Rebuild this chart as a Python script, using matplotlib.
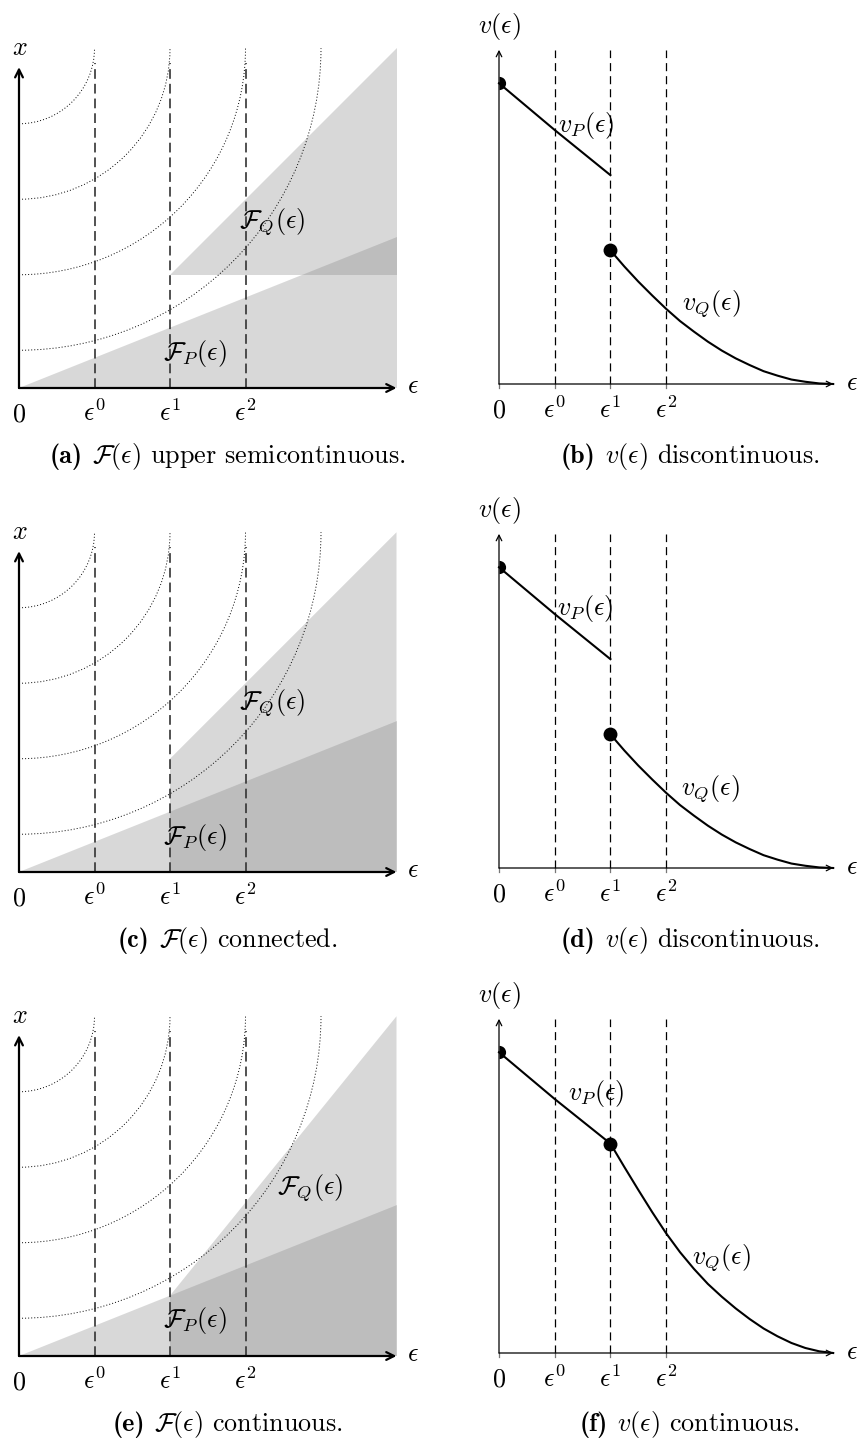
"""
Feasible set F(eps) vs optimal value v(eps) -- six panels (a)-(f)
Output: out.png (860x1448)
"""

import matplotlib

matplotlib.use("Agg")
import matplotlib.pyplot as plt
from matplotlib.patches import Arc

plt.rcParams["mathtext.fontset"] = "cm"
plt.rcParams["font.family"] = "serif"
plt.rcParams["font.serif"] = ["cmr10"]
plt.rcParams["axes.unicode_minus"] = False
plt.rcParams["lines.scale_dashes"] = False

# ─────────────────────────────────────────────
# DATA
# ─────────────────────────────────────────────
EPS_TICKS = [1, 2, 3]
EPS_LABELS = [r"$\epsilon^0$", r"$\epsilon^1$", r"$\epsilon^2$"]

# level sets (quarter circles round the top-left corner)
ARC_RADII = [1, 2, 3, 4]
ARC_TOP = 4.5

# feasible regions (eps, x) polygons
P_EPS = [0, 5, 5]
P_X = [0, 0, 2]
Q_EPS_A = [2, 5, 5]
Q_X_A = [1.5, 1.5, 4.5]
Q_EPS_C = [2, 5, 5, 2]
Q_X_C = [0, 0, 4.5, 1.5]
Q_EPS_E = [2, 5, 5, 2]
Q_X_E = [0, 0, 4.5, 0.8]

# value functions
VP_EPS = [0, 1, 2]
VP_DISC = [5.4, 4.56, 3.75]
VP_CONT = [5.4, 4.56, 3.76]
VQ_EPS = [2.0, 2.25, 2.5, 2.75, 3.0, 3.25, 3.5, 3.75, 4.0,
          4.25, 4.5, 4.75, 5.0, 5.25, 5.5, 5.75, 6.0]
VQ_DISC = [2.40, 2.11, 1.84, 1.59, 1.35, 1.13, 0.94, 0.76, 0.60,
           0.46, 0.34, 0.23, 0.15, 0.08, 0.04, 0.01, 0.00]
VQ_CONT = [3.76, 3.34, 2.93, 2.53, 2.15, 1.81, 1.51, 1.24, 1.01,
           0.80, 0.61, 0.44, 0.30, 0.18, 0.09, 0.03, 0.00]

CAPTION_TAGS = ["(a)", "(b)", "(c)", "(d)", "(e)", "(f)"]
CAPTION_TEXTS = [
    r"$\mathcal{F}(\epsilon)$ upper semicontinuous.",
    r"$v(\epsilon)$ discontinuous.",
    r"$\mathcal{F}(\epsilon)$ connected.",
    r"$v(\epsilon)$ discontinuous.",
    r"$\mathcal{F}(\epsilon)$ continuous.",
    r"$v(\epsilon)$ continuous.",
]

W, H = 860, 1448
FS = 18.8
FILL = dict(color="#808080", alpha=0.3, lw=0)

fig = plt.figure(figsize=(W / 100, H / 100), dpi=100)


def panel_axes(ox, oy, unit, xlim, ylim):
    # axes box in pixels so that one data unit == `unit` px on both axes
    left = ox + xlim[0] * unit
    right = ox + xlim[1] * unit
    top = oy - ylim[1] * unit
    bottom = oy - ylim[0] * unit
    ax = fig.add_axes([left / W, 1 - bottom / H, (right - left) / W, (bottom - top) / H])
    ax.set_xlim(xlim)
    ax.set_ylim(ylim)
    ax.axis("off")
    return ax


def arrow(ax, start, end, lw, ms):
    ax.annotate("", xy=end, xytext=start,
                arrowprops=dict(arrowstyle="->", lw=lw, color="k",
                                shrinkA=0, shrinkB=0, mutation_scale=ms))


def region_panel(oy, q_eps, q_x, fq_x, fq_y, fp_y):
    ax = panel_axes(19, oy, 75.5, (-0.25, 5.45), (-0.25, 4.7))
    ax.fill(P_EPS, P_X, zorder=1, **FILL)
    ax.fill(q_eps, q_x, zorder=1, **FILL)
    for r in ARC_RADII:
        ax.add_patch(Arc((0, ARC_TOP), 2 * r, 2 * r, theta1=270, theta2=360,
                         color="k", lw=0.7, ls=(0, (0.7, 1.5)), zorder=2))
    for e in EPS_TICKS:
        ax.plot([e, e], [0, 4.3], color="#333333", lw=1.2, dashes=(7, 3.6), zorder=3)
    arrow(ax, (0, 0), (5, 0), 1.6, 14)
    arrow(ax, (0, 0), (0, 4.25), 1.6, 14)

    ax.text(0, -0.44, r"$0$", ha="center", va="baseline", fontsize=FS)
    for e, lab in zip(EPS_TICKS, EPS_LABELS):
        ax.text(e, -0.44, lab, ha="center", va="baseline", fontsize=FS)
    ax.text(5.22, -0.07, r"$\epsilon$", ha="center", va="baseline", fontsize=FS)
    ax.text(0.01, 4.41, r"$x$", ha="center", va="baseline", fontsize=FS)
    ax.text(fq_x, fq_y, r"$\mathcal{F}_Q(\epsilon)$", ha="left", va="baseline", fontsize=FS)
    ax.text(1.91, fp_y, r"$\mathcal{F}_P(\epsilon)$", ha="left", va="baseline", fontsize=FS)


def value_panel(oy, vp, vq, vp_lab, vq_lab):
    ax = panel_axes(499, oy, 55.7, (-0.25, 6.4), (-0.25, 6.5))
    for e in EPS_TICKS:
        ax.plot([e, e], [0, 6], color="k", lw=0.9, dashes=(5.8, 3.6), zorder=1)
    for e in [0] + EPS_TICKS:
        ax.plot([e, e], [0, -0.08], color="#777777", lw=0.9, zorder=1)
    arrow(ax, (0, 0), (6, 0), 0.9, 10)
    arrow(ax, (0, 0), (0, 6), 0.9, 10)

    ax.plot(VP_EPS, vp, color="k", lw=1.5, zorder=3)
    ax.plot(VQ_EPS, vq, color="k", lw=1.5, zorder=3)
    ax.plot(VP_EPS[0], vp[0], "o", ms=9.5, fillstyle="right", mew=0, color="k", zorder=4)
    ax.plot(VQ_EPS[0], vq[0], "o", ms=10, mew=0, color="k", zorder=4)

    ax.text(0, -0.61, r"$0$", ha="center", va="baseline", fontsize=FS)
    for e, lab in zip(EPS_TICKS, EPS_LABELS):
        ax.text(e, -0.61, lab, ha="center", va="baseline", fontsize=FS)
    ax.text(6.34, -0.11, r"$\epsilon$", ha="center", va="baseline", fontsize=FS)
    ax.text(0, 6.31, r"$v(\epsilon)$", ha="center", va="baseline", fontsize=FS)
    ax.text(vp_lab[0], vp_lab[1], r"$v_P(\epsilon)$", ha="left", va="baseline", fontsize=FS)
    ax.text(vq_lab[0], vq_lab[1], r"$v_Q(\epsilon)$", ha="left", va="baseline", fontsize=FS)


region_panel(388, Q_EPS_A, Q_X_A, 2.91, 2.13, 0.37)
region_panel(872, Q_EPS_C, Q_X_C, 2.91, 2.16, 0.375)
region_panel(1356, Q_EPS_E, Q_X_E, 3.42, 2.15, 0.39)

value_panel(384, VP_DISC, VQ_DISC, (1.06, 4.53), (3.29, 1.33))
value_panel(868, VP_DISC, VQ_DISC, (1.04, 4.54), (3.27, 1.31))
value_panel(1353, VP_CONT, VQ_CONT, (1.24, 4.54), (3.47, 1.61))

# captions: bold tag + roman text, centred together under each panel
renderer = fig.canvas.get_renderer()
gap = 9.0
for i, (tag, txt) in enumerate(zip(CAPTION_TAGS, CAPTION_TEXTS)):
    row, col = divmod(i, 2)
    cx = 227.5 if col == 0 else 690
    y = 1 - (463 + row * 484) / H
    t1 = fig.text(0, y, tag, family="cmb10", ha="left", va="baseline", fontsize=FS)
    t2 = fig.text(0, y, txt, ha="left", va="baseline", fontsize=FS)
    w1 = t1.get_window_extent(renderer).width
    w2 = t2.get_window_extent(renderer).width
    start = cx - (w1 + gap + w2) / 2
    t1.set_x(start / W)
    t2.set_x((start + w1 + gap) / W)

fig.savefig("out.png", dpi=100)
